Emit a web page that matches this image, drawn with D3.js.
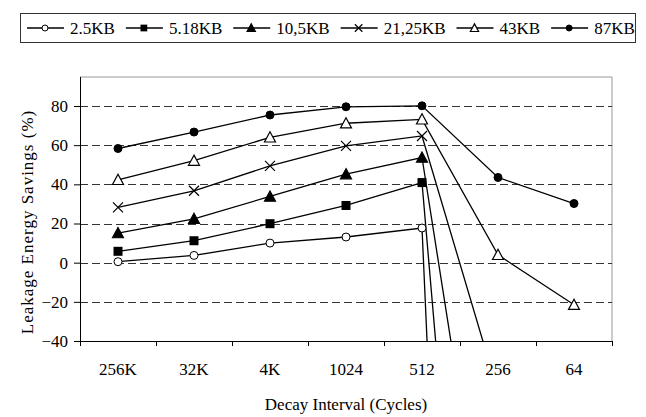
<!DOCTYPE html>
<html>
<head>
<meta charset="utf-8">
<script src="https://cdn.jsdelivr.net/npm/d3@7"></script>
<style>
  body { margin: 0; background: #fff; }
  svg { display: block; font-family: "Liberation Serif", "Times New Roman", serif; }
</style>
</head>
<body>
<div id="chart"></div>
<script>
// categories (decay intervals) and series
const categories = ["256K", "32K", "4K", "1024", "512", "256", "64"];
const seriesNames = ["2.5KB", "5.18KB", "10,5KB", "21,25KB", "43KB", "87KB"];
const markerTypes = ["circleOpen", "square", "triangle", "cross", "triangleOpen", "circle"];

// values; the big drops after 512 run off the chart
const s2_5 = [0.5, 3.7, 10, 13.1, 17.7, -850, null];
const s5_18 = [5.8, 11.2, 19.9, 29.2, 40.9, -410, null];
const s10_5 = [15.1, 22.4, 33.8, 45.2, 53.7, -193, null];
const s21_25 = [28.2, 36.7, 49.4, 59.6, 64.7, -66, null];
const s43 = [42.3, 52.1, 64, 71.2, 73.2, 4, -21.5];
const s87 = [58.3, 66.7, 75.4, 79.6, 80.1, 43.5, 30.2];
const allSeries = [s2_5, s5_18, s10_5, s21_25, s43, s87];

const yTicks = [-40, -20, 0, 20, 40, 60, 80];

const WIDTH = 646, HEIGHT = 417;
const PLOT = { left: 80, right: 612, top: 77, bottom: 341 };

const svg = d3.select("#chart").append("svg")
    .attr("width", WIDTH)
    .attr("height", HEIGHT);

const x = d3.scaleBand()
    .domain(categories)
    .range([PLOT.left, PLOT.right]);

const y = d3.scaleLinear()
    .domain([-40, 80])
    .range([PLOT.bottom, 106]);

// clip for the lines
svg.append("defs").append("clipPath")
    .attr("id", "plot-clip")
    .append("rect")
    .attr("x", PLOT.left)
    .attr("y", PLOT.top)
    .attr("width", PLOT.right - PLOT.left)
    .attr("height", PLOT.bottom - PLOT.top);

// plot frame (top + right, grey)
svg.append("path")
    .attr("d", `M${PLOT.left},${PLOT.top}H${PLOT.right}V${PLOT.bottom}`)
    .attr("fill", "none")
    .attr("stroke", "#999")
    .attr("stroke-width", 1);

// dashed gridlines
svg.append("g")
    .selectAll("line")
    .data(yTicks.filter(v => v > -40))
    .enter()
    .append("line")
    .attr("x1", PLOT.left)
    .attr("x2", PLOT.right)
    .attr("y1", d => Math.round(y(d)) + 0.5)
    .attr("y2", d => Math.round(y(d)) + 0.5)
    .attr("stroke", "#333")
    .attr("stroke-width", 1)
    .attr("stroke-dasharray", "8,4");

// y axis
const yAxis = svg.append("g")
    .attr("transform", `translate(${PLOT.left},0)`)
    .call(d3.axisLeft(y).tickValues(yTicks).tickSize(6).tickPadding(6).tickFormat(d3.format("d")));
yAxis.select(".domain").attr("d", `M0.5,${PLOT.top}V${PLOT.bottom}`).attr("stroke", "#000");
yAxis.selectAll("text")
    .attr("font-size", 17)
    .attr("font-family", "Liberation Serif")
    .attr("fill", "#000");

// x axis, ticks at category boundaries
const bounds = categories.map(c => x(c)).concat([PLOT.right]);
const xAxis = svg.append("g");
xAxis.append("line")
    .attr("x1", PLOT.left).attr("x2", PLOT.right)
    .attr("y1", PLOT.bottom + 0.5).attr("y2", PLOT.bottom + 0.5)
    .attr("stroke", "#000");
xAxis.selectAll(".tk")
    .data(bounds)
    .enter()
    .append("line")
    .attr("x1", d => Math.round(d) + 0.5).attr("x2", d => Math.round(d) + 0.5)
    .attr("y1", PLOT.bottom).attr("y2", PLOT.bottom + 5)
    .attr("stroke", "#000");
xAxis.selectAll("text")
    .data(categories)
    .enter()
    .append("text")
    .attr("x", d => x(d) + x.bandwidth() / 2)
    .attr("y", 375)
    .attr("text-anchor", "middle")
    .attr("font-size", 17)
    .text(d => d);

// axis titles
svg.append("text")
    .attr("x", (PLOT.left + PLOT.right) / 2)
    .attr("y", 410)
    .attr("text-anchor", "middle")
    .attr("font-size", 17)
    .text("Decay Interval (Cycles)");

svg.append("text")
    .attr("transform", `translate(33,222) rotate(-90)`)
    .attr("text-anchor", "middle")
    .attr("font-size", 17)
    .attr("letter-spacing", 1)
    .text("Leakage Energy Savings (%)");

// markers
function drawMarker(g, type, cx, cy, s) {
    if (type === "circleOpen" || type === "circle") {
        g.append("circle")
            .attr("cx", cx).attr("cy", cy).attr("r", 4 * s)
            .attr("fill", type === "circle" ? "#000" : "#fff")
            .attr("stroke", "#000").attr("stroke-width", 1);
    } else if (type === "square") {
        const h = 4.5 * s;
        g.append("rect")
            .attr("x", cx - h).attr("y", cy - h)
            .attr("width", 2 * h).attr("height", 2 * h)
            .attr("fill", "#000");
    } else if (type === "triangle" || type === "triangleOpen") {
        const h = 5.5 * s;
        g.append("path")
            .attr("d", `M${cx},${cy - h}L${cx + h},${cy + h * 0.85}L${cx - h},${cy + h * 0.85}Z`)
            .attr("fill", type === "triangle" ? "#000" : "#fff")
            .attr("stroke", "#000").attr("stroke-width", 1.2);
    } else if (type === "cross") {
        const h = 5 * s;
        g.append("path")
            .attr("d", `M${cx - h},${cy - h}L${cx + h},${cy + h}M${cx - h},${cy + h}L${cx + h},${cy - h}`)
            .attr("stroke", "#000").attr("stroke-width", 1.2);
    }
}

const line = d3.line()
    .defined(d => d !== null)
    .x((d, i) => x(categories[i]) + x.bandwidth() / 2)
    .y(d => y(d));

const linesG = svg.append("g").attr("clip-path", "url(#plot-clip)");
allSeries.forEach((vals, si) => {
    linesG.append("path")
        .datum(vals)
        .attr("d", line)
        .attr("fill", "none")
        .attr("stroke", "#000")
        .attr("stroke-width", 1.3);
});

const markersG = svg.append("g");
allSeries.forEach((vals, si) => {
    vals.forEach((v, i) => {
        if (v === null || v < -40) return;
        drawMarker(markersG, markerTypes[si], x(categories[i]) + x.bandwidth() / 2, y(v), 1);
    });
});

// legend
const legend = svg.append("g");
legend.append("rect")
    .attr("x", 20.5).attr("y", 13.5)
    .attr("width", 615).attr("height", 29)
    .attr("fill", "#fff")
    .attr("stroke", "#333");

let lx = 27;
const ly = 28;
seriesNames.forEach((name, i) => {
    legend.append("line")
        .attr("x1", lx).attr("x2", lx + 37)
        .attr("y1", ly).attr("y2", ly)
        .attr("stroke", "#000").attr("stroke-width", 1.3);
    drawMarker(legend, markerTypes[i], lx + 18, ly, 0.75);
    const t = legend.append("text")
        .attr("x", lx + 43)
        .attr("y", ly + 5.5)
        .attr("font-size", 17)
        .text(name);
    lx = lx + 43 + t.node().getComputedTextLength() + 11;
});
</script>
</body>
</html>
